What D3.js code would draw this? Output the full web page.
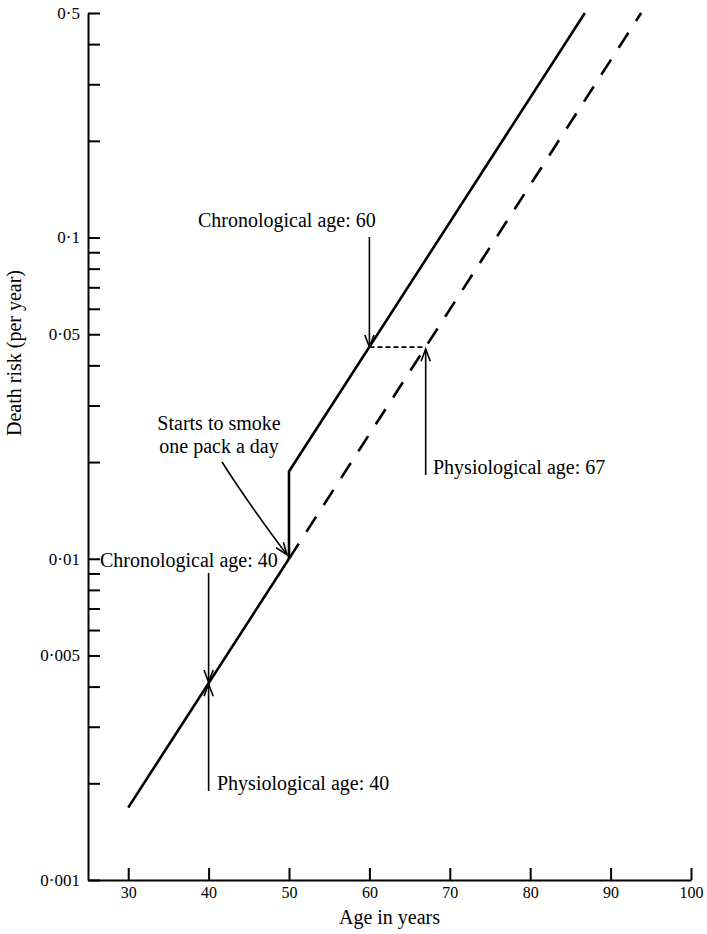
<!DOCTYPE html>
<html>
<head>
<meta charset="utf-8">
<script src="https://cdn.jsdelivr.net/npm/d3@7"></script>
<style>
  html, body { margin: 0; padding: 0; background: #fff; }
  svg { display: block; }
  text { font-family: "Liberation Serif", "Times New Roman", serif; fill: #000; }
</style>
</head>
<body>
<svg id="chart" width="707" height="934"></svg>
<script>
// ---- data ----
const xTickValues = [30, 40, 50, 60, 70, 80, 90, 100];
const xTickLabels = ["30", "40", "50", "60", "70", "80", "90", "100"];
const yTickValues = [0.5, 0.4, 0.3, 0.2, 0.1, 0.09, 0.08, 0.07, 0.06, 0.05, 0.04, 0.03, 0.02,
                     0.01, 0.009, 0.008, 0.007, 0.006, 0.005, 0.004, 0.003, 0.002, 0.001];
const yLabeledValues = [0.5, 0.1, 0.05, 0.01, 0.005, 0.001];
const yLabelTexts = ["0·5", "0·1", "0·05", "0·01", "0·005", "0·001"];

// non-smoker, solid part (age, risk)
const nonSmokerSolidAges = [30, 50];
const nonSmokerSolidRisk = [0.00168, 0.0100];
// non-smoker continued, dashed
const nonSmokerDashedAges = [50, 93.8];
const nonSmokerDashedRisk = [0.0100, 0.5];
// smoker (one pack a day from 50)
const smokerAges = [50, 50, 86.8];
const smokerRisk = [0.0100, 0.0187, 0.5];
// equal-risk connector between chronological 60 and physiological 67
const equalAges = [60, 67];
const equalRisk = [0.0456, 0.0456];
// annotated points
const riskAt40 = 0.0041;
const riskAt60Smoker = 0.0456;

// ---- layout ----
const svg = d3.select("#chart");
const x = d3.scaleLinear().domain([25, 100]).range([88, 691]);
const y = d3.scaleLog().domain([0.001, 0.5]).range([880, 13]);

const zip = (a, b) => a.map((v, i) => [v, b[i]]);
const line = d3.line().x(d => x(d[0])).y(d => y(d[1]));

// axes
const yLabelMap = new Map(yLabeledValues.map((v, i) => [v, yLabelTexts[i]]));
const yAxis = d3.axisLeft(y)
  .tickValues(yTickValues)
  .tickFormat(d => yLabelMap.get(d) || "")
  .tickSizeInner(-12).tickSizeOuter(0).tickPadding(8);
const gy = svg.append("g").attr("transform", `translate(${x(25)},0)`).call(yAxis);
gy.select(".domain").attr("stroke", "#000").attr("stroke-width", 2);
gy.selectAll(".tick line").attr("stroke", "#000").attr("stroke-width", 2);
gy.selectAll(".tick text").attr("font-size", 17).attr("font-family", "Liberation Serif").attr("fill", "#000");

const xAxis = d3.axisBottom(x)
  .tickValues(xTickValues)
  .tickFormat((d, i) => xTickLabels[i])
  .tickSizeInner(-12).tickSizeOuter(0).tickPadding(7);
const gx = svg.append("g").attr("transform", `translate(0,${y(0.001)})`).call(xAxis);
gx.select(".domain").attr("stroke", "#000").attr("stroke-width", 2);
gx.selectAll(".tick line").attr("stroke", "#000").attr("stroke-width", 2);
gx.selectAll(".tick text").attr("font-size", 16).attr("font-family", "Liberation Serif").attr("fill", "#000");

// axis titles
svg.append("text").attr("x", (x(25) + x(100)) / 2).attr("y", 924)
  .attr("text-anchor", "middle").attr("font-size", 20).text("Age in years");
svg.append("text").attr("transform", "translate(21,353) rotate(-90)")
  .attr("text-anchor", "middle").attr("font-size", 20).text("Death risk (per year)");

// curves
svg.append("path").datum(zip(nonSmokerSolidAges, nonSmokerSolidRisk))
  .attr("d", line).attr("fill", "none").attr("stroke", "#000").attr("stroke-width", 2.6);
svg.append("path").datum(zip(nonSmokerDashedAges, nonSmokerDashedRisk))
  .attr("d", line).attr("fill", "none").attr("stroke", "#000").attr("stroke-width", 2.6)
  .attr("stroke-dasharray", "18,14");
svg.append("path").datum(zip(smokerAges, smokerRisk))
  .attr("d", line).attr("fill", "none").attr("stroke", "#000").attr("stroke-width", 2.6)
  .attr("stroke-linejoin", "miter");
svg.append("path").datum(zip(equalAges, equalRisk))
  .attr("d", line).attr("fill", "none").attr("stroke", "#000").attr("stroke-width", 1.8)
  .attr("stroke-dasharray", "5,3");

// arrows
function arrowHead(tx, ty, fromX, fromY) {
  const ang = Math.atan2(ty - fromY, tx - fromX);
  const L = 13, a = 0.36;
  const p1 = [tx - L * Math.cos(ang - a), ty - L * Math.sin(ang - a)];
  const p2 = [tx - L * Math.cos(ang + a), ty - L * Math.sin(ang + a)];
  svg.append("path")
    .attr("d", `M${p1[0]},${p1[1]}L${tx},${ty}L${p2[0]},${p2[1]}`)
    .attr("fill", "none").attr("stroke", "#000").attr("stroke-width", 1.6);
}
function vArrow(ax, y0, y1) {
  svg.append("line").attr("x1", ax).attr("x2", ax).attr("y1", y0).attr("y2", y1)
    .attr("stroke", "#000").attr("stroke-width", 1.6);
  arrowHead(ax, y1, ax, y0);
}

// Chronological age 60 (down to smoker line)
vArrow(x(60), 237, y(riskAt60Smoker));
// Physiological age 67 (up to non-smoker line)
vArrow(x(67), 475, y(riskAt60Smoker) + 2);
// Chronological age 40 (down)
vArrow(x(40), 573, y(riskAt40) - 1);
// Physiological age 40 (up)
vArrow(x(40), 791, y(riskAt40) + 1);

// curved arrow "starts to smoke"
{
  const sx = 222, sy = 462, cx = 246, cy = 500, ex = x(50) - 2, ey = y(0.01) - 4;
  svg.append("path").attr("d", `M${sx},${sy}Q${cx},${cy} ${ex},${ey}`)
    .attr("fill", "none").attr("stroke", "#000").attr("stroke-width", 1.6);
  arrowHead(ex, ey, cx, cy);
}

// annotation texts
const fs = 20;
svg.append("text").attr("x", 198).attr("y", 227).attr("font-size", fs).text("Chronological age: 60");
svg.append("text").attr("x", 433).attr("y", 474).attr("font-size", fs).text("Physiological age: 67");
svg.append("text").attr("x", 219).attr("y", 430).attr("text-anchor", "middle").attr("font-size", fs).text("Starts to smoke");
svg.append("text").attr("x", 219).attr("y", 453).attr("text-anchor", "middle").attr("font-size", fs).text("one pack a day");
svg.append("text").attr("x", 100).attr("y", 567).attr("font-size", fs).text("Chronological age: 40");
svg.append("text").attr("x", 217).attr("y", 790).attr("font-size", fs).text("Physiological age: 40");
</script>
</body>
</html>
